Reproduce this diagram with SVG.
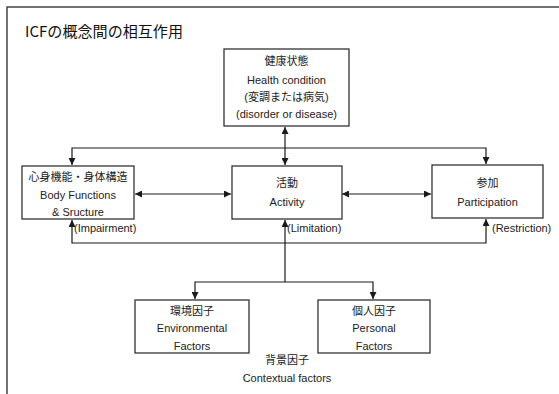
<svg xmlns="http://www.w3.org/2000/svg" width="559" height="394" viewBox="0 0 559 394">
<defs>
<marker id="ah" viewBox="0 0 10 10" refX="10" refY="5" markerWidth="7" markerHeight="7" markerUnits="userSpaceOnUse" orient="auto-start-reverse">
<path d="M0,0 L10,5 L0,10 Z" fill="#1a1a1a"/>
</marker>
</defs>
<style>
.box{fill:#fff;stroke:#333;stroke-width:1.3}
.t{font-family:"Liberation Sans","Noto Sans CJK JP",sans-serif;font-size:11px;fill:#222;text-anchor:middle}
.l{font-family:"Liberation Sans","Noto Sans CJK JP",sans-serif;font-size:11px;fill:#222}
.c{fill:none;stroke:#1a1a1a;stroke-width:1.2}
.frame{fill:none;stroke:#444;stroke-width:1.5}
</style>
<rect width="559" height="394" fill="#fff"/>
<path class="frame" d="M7,394 V7 H559"/>
<text x="25" y="37" font-family="'Noto Sans CJK JP',sans-serif" font-size="15" fill="#111" textLength="158" lengthAdjust="spacingAndGlyphs">ICFの概念間の相互作用</text>

<g id="connectors">
<path class="c" d="M285,127 V165" marker-start="url(#ah)" marker-end="url(#ah)"/>
<path class="c" d="M72,165 V148 H486 V164" marker-start="url(#ah)" marker-end="url(#ah)"/>
<path class="c" d="M135,194 H231" marker-start="url(#ah)" marker-end="url(#ah)"/>
<path class="c" d="M342,194 H431" marker-start="url(#ah)" marker-end="url(#ah)"/>
<path class="c" d="M72,220 V243 H486 V219" marker-start="url(#ah)" marker-end="url(#ah)"/>
<path class="c" d="M285,220 V282" marker-start="url(#ah)"/>
<path class="c" d="M195,299 V282 H373 V299" marker-start="url(#ah)" marker-end="url(#ah)"/>
</g>

<g id="health">
<rect class="box" x="224" y="49" width="125" height="77"/>
<text class="t" x="286.5" y="65">健康状態</text>
<text class="t" x="286.5" y="84">Health condition</text>
<text class="t" x="286.5" y="101">(変調または病気)</text>
<text class="t" x="286.5" y="118">(disorder or disease)</text>
</g>

<g id="body">
<rect class="box" x="22" y="166" width="112" height="53"/>
<text class="t" x="78" y="181">心身機能・身体構造</text>
<text class="t" x="78" y="199">Body Functions</text>
<text class="t" x="78" y="216">&amp; Sructure</text>
</g>

<g id="activity">
<rect class="box" x="232" y="166" width="110" height="53"/>
<text class="t" x="287" y="187">活動</text>
<text class="t" x="287" y="206">Activity</text>
</g>

<g id="participation">
<rect class="box" x="432" y="165" width="111" height="53"/>
<text class="t" x="487.5" y="187">参加</text>
<text class="t" x="487.5" y="206">Participation</text>
</g>

<g id="labels">
<text class="l" x="74" y="232">(Impairment)</text>
<text class="l" x="287" y="232">(Limitation)</text>
<text class="l" x="492" y="232">(Restriction)</text>
</g>

<g id="environmental">
<rect class="box" x="135" y="300" width="114" height="53"/>
<text class="t" x="192" y="315">環境因子</text>
<text class="t" x="192" y="332">Environmental</text>
<text class="t" x="192" y="350">Factors</text>
</g>

<g id="personal">
<rect class="box" x="318" y="300" width="112" height="53"/>
<text class="t" x="374" y="315">個人因子</text>
<text class="t" x="374" y="332">Personal</text>
<text class="t" x="374" y="350">Factors</text>
</g>

<g id="contextual">
<text class="t" x="287" y="364">背景因子</text>
<text class="t" x="287" y="382">Contextual factors</text>
</g>
</svg>
